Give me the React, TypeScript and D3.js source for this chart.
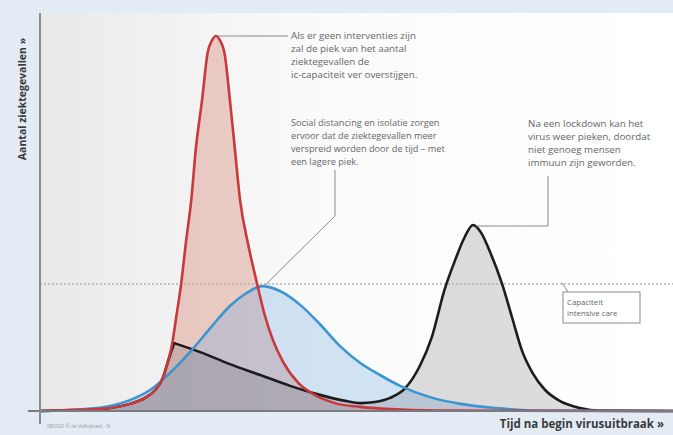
import React, { useEffect, useRef } from "react";
import * as d3 from "d3";

// tijd (0-100) en aantal ziektegevallen (0-100, rode piek = 100)
const redT = [0, 6.3, 11.1, 14.2, 16.6, 18.2, 19.4, 20.2, 20.9, 21.5, 22.3, 23.1, 23.9, 24.6, 25.6, 26.5, 27.2, 27.8, 28.4, 29.2, 30.0, 30.8, 31.6, 32.9, 34.3, 35.5, 36.8, 38.4, 40.8, 43.4, 46.6, 50.6, 56.9, 64.8, 100];
const redV = [0, 0.3, 0.8, 1.9, 3.5, 5.6, 8.8, 13.1, 18.1, 24.8, 33.9, 45.6, 56.3, 69.6, 82.9, 95.7, 98.9, 100, 98.9, 94.9, 82.9, 69.6, 56.3, 44.3, 33.9, 25.6, 18.9, 13.1, 7.5, 4.3, 2.1, 1.1, 0.4, 0.1, 0];

const blueT = [0, 6.3, 11.1, 14.2, 17.4, 20.5, 23.7, 26.9, 30.0, 32.4, 35.1, 37.9, 41.1, 44.2, 47.4, 50.6, 53.7, 56.9, 61.6, 66.4, 72.7, 79.0, 100];
const blueV = [0, 0.4, 1.3, 2.9, 5.6, 10.1, 15.7, 22.1, 28.0, 31.2, 33.3, 32.0, 28.3, 23.2, 17.3, 12.8, 9.6, 6.7, 3.7, 1.9, 0.7, 0.1, 0];

// zwart: volgt rood tot de lockdown, daarna daling en tweede piek
const blackRiseT = [0, 6.3, 11.1, 14.2, 16.6, 18.2, 19.4, 20.2, 21.2];
const blackRiseV = [0, 0.3, 0.8, 1.9, 3.5, 5.6, 8.8, 13.1, 18.1];
const blackT = [21.2, 25.3, 30.0, 34.8, 39.5, 44.2, 48.2, 50.6, 52.9, 55.3, 57.7, 60.0, 61.9, 63.9, 65.6, 67.1, 68.4, 69.7, 71.1, 73.0, 74.6, 76.1, 77.9, 79.8, 82.1, 85.3, 88.5, 100];
const blackV = [18.1, 15.7, 12.5, 9.6, 6.7, 4.3, 2.7, 2.1, 2.4, 3.5, 6.1, 12.0, 19.7, 32.3, 40.3, 46.4, 49.6, 47.5, 42.4, 33.9, 24.8, 16.3, 9.9, 5.6, 2.7, 0.8, 0.1, 0];

const icCapacity = 33.9;

const noteNoIntervention = ["Als er geen interventies zijn", "zal de piek van het aantal", "ziektegevallen de", "ic-capaciteit ver overstijgen."];
const noteDistancing = ["Social distancing en isolatie zorgen", "ervoor dat de ziektegevallen meer", "verspreid worden door de tijd – met", "een lagere piek."];
const noteLockdown = ["Na een lockdown kan het", "virus weer pieken, doordat", "niet genoeg mensen", "immuun zijn geworden."];
const capacityLabel = ["Capaciteit", "intensive care"];
const yTitle = "Aantal ziektegevallen »";
const xTitle = "Tijd na begin virusuitbraak »";
const credit = "080320 © de Volkskrant · N";

const W = 673;
const H = 435;

const App: React.FC = () => {
  const svgRef = useRef<SVGSVGElement | null>(null);

  useEffect(() => {
    if (!svgRef.current) return;
    const svg = d3.select(svgRef.current);
    svg.selectAll("*").remove();

    const left = 40;
    const top = 13;
    const base = 411;

    const x = d3.scaleLinear().domain([0, 100]).range([left, W]);
    const y = d3.scaleLinear().domain([0, 100]).range([base, 36]);

    const zip = (ts: number[], vs: number[]) => ts.map((t, i) => [t, vs[i]] as [number, number]);
    const red = zip(redT, redV);
    const blue = zip(blueT, blueV);
    const blackRise = zip(blackRiseT, blackRiseV);
    const black = zip(blackT, blackV);

    const line = d3
      .line<[number, number]>()
      .x((d) => x(d[0]))
      .y((d) => y(d[1]))
      .curve(d3.curveMonotoneX);
    const area = d3
      .area<[number, number]>()
      .x((d) => x(d[0]))
      .y0(y(0))
      .y1((d) => y(d[1]))
      .curve(d3.curveMonotoneX);

    // achtergrond
    svg.append("rect").attr("width", W).attr("height", H).attr("fill", "#e3ebf4");
    const grad = svg
      .append("defs")
      .append("linearGradient")
      .attr("id", "panel")
      .attr("x1", 0)
      .attr("x2", 1);
    grad.append("stop").attr("offset", 0).attr("stop-color", "#e9e9e9");
    grad.append("stop").attr("offset", 0.45).attr("stop-color", "#fbfbfb");
    grad.append("stop").attr("offset", 1).attr("stop-color", "#ffffff");
    svg
      .append("rect")
      .attr("x", left)
      .attr("y", top)
      .attr("width", W - left)
      .attr("height", base - top)
      .attr("fill", "url(#panel)");

    // vlakken
    svg.append("path").attr("d", area(red)).attr("fill", "rgba(205,95,70,0.28)");
    svg.append("path").attr("d", area(blue)).attr("fill", "rgba(95,160,220,0.27)");
    const blackLine = (line(blackRise) || "") + (line(black) || "").replace(/^M/, "L");
    svg
      .append("path")
      .attr("d", blackLine + `L${x(100)},${y(0)}L${x(0)},${y(0)}Z`)
      .attr("fill", "rgba(60,60,64,0.17)");

    // ic-capaciteit
    svg
      .append("line")
      .attr("x1", left)
      .attr("x2", W)
      .attr("y1", y(icCapacity))
      .attr("y2", y(icCapacity))
      .attr("stroke", "#a8a8a8")
      .attr("stroke-width", 1.2)
      .attr("stroke-dasharray", "2,2");

    // lijnen
    svg.append("path").attr("d", blackLine).attr("fill", "none").attr("stroke", "#1c1c1e").attr("stroke-width", 2.6).attr("stroke-linejoin", "round");
    svg.append("path").attr("d", line(blue)).attr("fill", "none").attr("stroke", "#3a95d0").attr("stroke-width", 2.6);
    svg.append("path").attr("d", line(red)).attr("fill", "none").attr("stroke", "#c9383b").attr("stroke-width", 2.6);

    // assen
    svg.append("line").attr("x1", 28).attr("x2", W).attr("y1", base).attr("y2", base).attr("stroke", "#7a7a80").attr("stroke-width", 2);
    svg.append("line").attr("x1", left).attr("x2", left).attr("y1", top).attr("y2", 424).attr("stroke", "#8a8a90").attr("stroke-width", 2);

    svg
      .append("text")
      .attr("transform", `translate(26,${(top + 185) / 2}) rotate(-90)`)
      .attr("text-anchor", "middle")
      .attr("font-size", 10.5)
      .attr("font-weight", "bold")
      .attr("fill", "#3a3a3a")
      .text(yTitle);
    svg
      .append("text")
      .attr("x", 664)
      .attr("y", 428)
      .attr("text-anchor", "end")
      .attr("font-size", 11.5)
      .attr("font-weight", "bold")
      .attr("fill", "#3a3a3a")
      .text(xTitle);
    svg.append("text").attr("x", 47).attr("y", 428).attr("font-size", 5).attr("fill", "#999").text(credit);

    // annotaties
    const leader = (pts: [number, number][]) =>
      svg
        .append("path")
        .attr("d", d3.line()(pts))
        .attr("fill", "none")
        .attr("stroke", "#8a8a8a")
        .attr("stroke-width", 1);
    const note = (lines: string[], tx: number, ty: number, size = 9.8, lh = 13) => {
      const t = svg
        .append("text")
        .attr("font-size", size)
        .attr("fill", "#666");
      lines.forEach((s, i) => t.append("tspan").attr("x", tx).attr("y", ty + i * lh).text(s));
    };

    leader([[x(27.8) + 2, y(100)], [288, y(100)]]);
    note(noteNoIntervention, 291, 39);

    leader([[x(35.1) + 3, y(33.3) - 1], [335, 216], [335, 170]]);
    note(noteDistancing, 291, 126, 9.2);

    leader([[x(68.4) + 3, y(49.6) + 1], [548, y(49.6) + 1], [548, 176]]);
    note(noteLockdown, 528, 127);

    svg
      .append("rect")
      .attr("x", 563)
      .attr("y", 292)
      .attr("width", 77)
      .attr("height", 31)
      .attr("fill", "#ffffff")
      .attr("stroke", "#8a8a8a")
      .attr("stroke-width", 1);
    leader([[562, y(icCapacity) - 1], [568, 292]]);
    note(capacityLabel, 567, 305, 7.8, 11);
  }, []);

  return (
    <svg
      ref={svgRef}
      width={W}
      height={H}
      style={{ position: "absolute", left: 0, top: 0, display: "block", fontFamily: "'Open Sans', sans-serif" }}
    ></svg>
  );
};

export default App;
